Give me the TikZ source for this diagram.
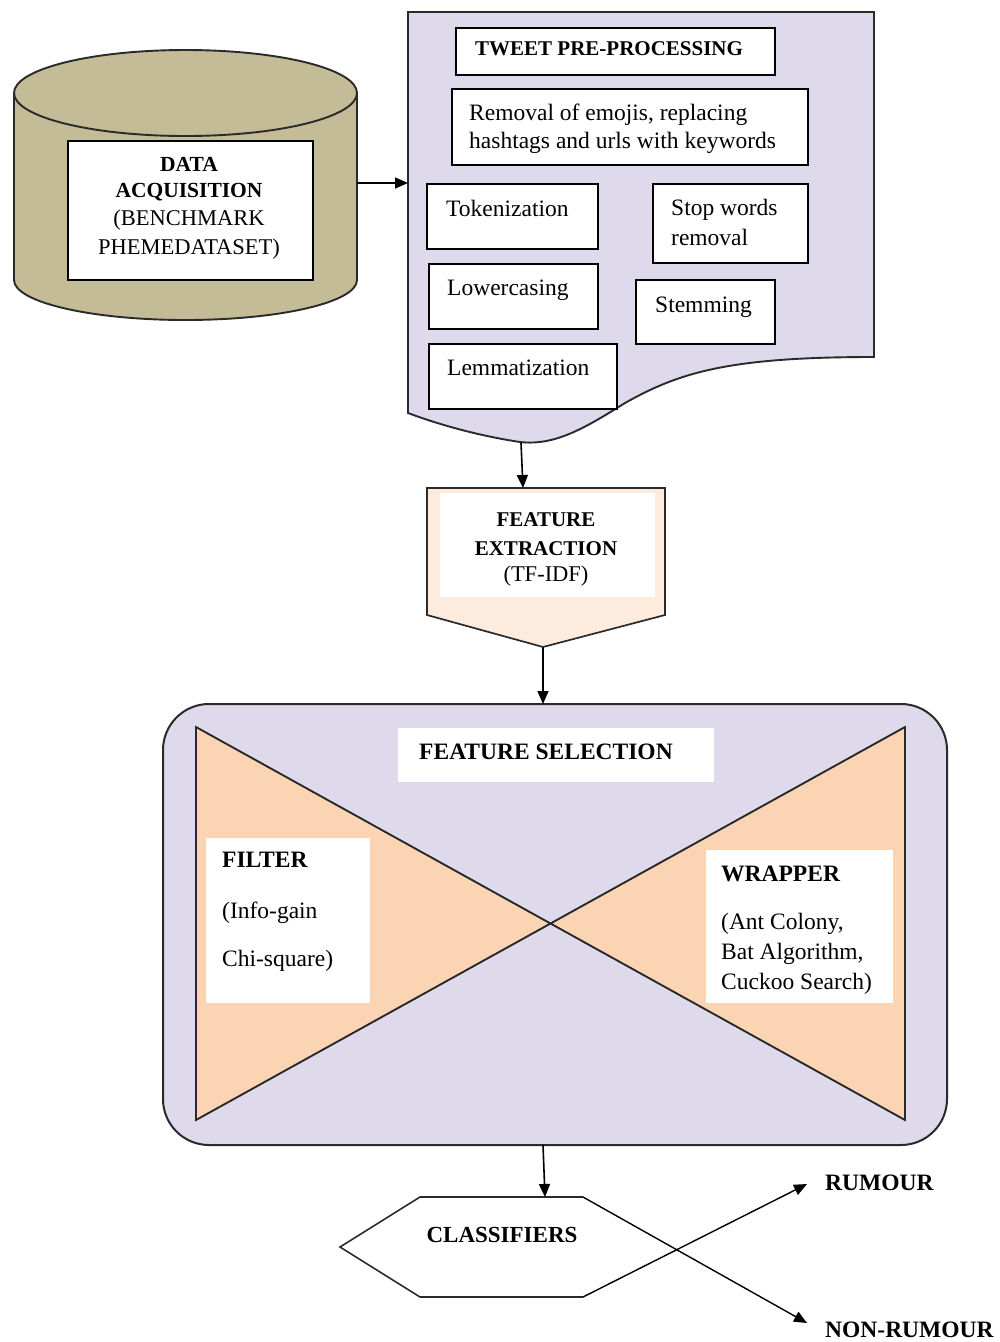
\documentclass[tikz,border=0pt]{standalone}
\usepackage{fontspec}
\setmainfont{Liberation Serif}
\usetikzlibrary{arrows.meta,calc}
\definecolor{tan}{HTML}{C4BC96}
\definecolor{lav}{HTML}{DEDAEB}
\definecolor{peach}{HTML}{FBD4B4}
\definecolor{peachlt}{HTML}{FDEBDD}
\definecolor{edge}{HTML}{2A2A2A}
\begin{document}
\begin{tikzpicture}[x=1pt,y=-1pt,
  box/.style={draw=black, line width=1.9pt, fill=white, inner sep=0pt, anchor=north west},
  plain/.style={fill=white, inner sep=0pt, anchor=north west},
  txt/.style={inner sep=0pt, anchor=base west, font=\fontsize{23.5}{28}\selectfont},
  ctxt/.style={inner sep=0pt, anchor=base, font=\fontsize{22.5}{28}\selectfont},
  hd/.style={font=\fontsize{#1}{28}\selectfont\bfseries},
  arr/.style={-{Triangle[length=13pt,width=11pt]}, line width=1.6pt, draw=black},
]
\useasboundingbox (0,0) rectangle (1000,1342);

% ---------- data store (cylinder) ----------
\filldraw[fill=tan, draw=edge, line width=1.9pt]
  (14,93) -- (14,280) arc[start angle=180, end angle=0, x radius=171.5, y radius=40] -- (357,93) -- cycle;
\filldraw[fill=tan, draw=edge, line width=1.9pt] (185.5,93) ellipse [x radius=171.5, y radius=43];
\coordinate (cylR) at (357,183);
\node[box, minimum width=245pt, minimum height=139pt] (dataBox) at (67,140) {};
\node[ctxt, hd=21.5] (d1) at (189,171) {DATA};
\node[ctxt, hd=21.5] (d2) at (189,197) {ACQUISITION};
\node[ctxt] (d3) at (189,225) {(BENCHMARK};
\node[ctxt] (d4) at (189,254) {PHEMEDATASET)};

% ---------- pre-processing document ----------
\filldraw[fill=lav, draw=edge, line width=1.9pt]
  (408,12) -- (874,12) -- (874,357)
  .. controls (730,357) and (680,372) .. (625,403)
  .. controls (585,428) and (555,446) .. (520,442)
  .. controls (480,436) and (440,425) .. (408,413) -- cycle;
\coordinate (docL) at (408,183);
\coordinate (docB) at (521,443);

\node[box, minimum width=319pt, minimum height=47pt] (tw) at (455,27) {};
\node[txt, hd=21] (twT) at (475,55) {TWEET PRE-PROCESSING};
\node[box, minimum width=356pt, minimum height=76pt] (rm) at (451,88) {};
\node[txt] (rm1) at (469,120) {Removal of emojis, replacing};
\node[txt] (rm2) at (469,148) {hashtags and urls with keywords};
\node[box, minimum width=171pt, minimum height=65pt] (tok) at (426,183) {};
\node[txt] (tokT) at (446,216) {Tokenization};
\node[box, minimum width=155pt, minimum height=79pt] (sw) at (652,183) {};
\node[txt] (sw1) at (671,215) {Stop words};
\node[txt] (sw2) at (671,245) {removal};
\node[box, minimum width=169pt, minimum height=65pt] (low) at (428,263) {};
\node[txt] (lowT) at (447,295) {Lowercasing};
\node[box, minimum width=139pt, minimum height=64pt] (stm) at (635,279) {};
\node[txt] (stmT) at (655,312) {Stemming};
\node[box, minimum width=188pt, minimum height=65pt] (lem) at (428,343) {};
\node[txt] (lemT) at (447,375) {Lemmatization};

% ---------- feature extraction (off-page connector) ----------
\filldraw[fill=peachlt, draw=edge, line width=1.7pt]
  (427,488) -- (665,488) -- (665,615) -- (543,647) -- (427,615) -- cycle;
\coordinate (feT) at (523,488);
\coordinate (feB) at (543,647);
\node[plain, minimum width=215pt, minimum height=104pt] (feBox) at (440,493) {};
\node[ctxt, hd=21] (fe1) at (546,526) {FEATURE};
\node[ctxt, hd=21] (fe2) at (546,555) {EXTRACTION};
\node[ctxt] (fe3) at (546,581) {(TF-IDF)};

% ---------- feature selection ----------
\filldraw[fill=lav, draw=edge, line width=2pt, rounded corners=46pt] (163,704) rectangle (947,1145);
\coordinate (fsT) at (543,704);
\coordinate (fsB) at (543,1145);
\coordinate (mid) at (550.5,923.5);
\filldraw[fill=peach, draw=edge, line width=1.6pt] (196,727) -- (mid) -- (196,1120) -- cycle;
\filldraw[fill=peach, draw=edge, line width=1.6pt] (905,727) -- (mid) -- (905,1120) -- cycle;
\draw[draw=edge, line width=1.6pt] (196,727) -- (905,1120) (905,727) -- (196,1120);

\node[plain, minimum width=316pt, minimum height=54pt] (fsBox) at (398,728) {};
\node[ctxt, hd=23.5] (fsT1) at (546,759) {FEATURE SELECTION};
\node[plain, minimum width=164pt, minimum height=165pt] (flBox) at (206,838) {};
\node[txt, hd=23.5] (fl1) at (222,867) {FILTER};
\node[txt] (fl2) at (222,918) {(Info-gain};
\node[txt] (fl3) at (222,966) {Chi-square)};
\node[plain, minimum width=187pt, minimum height=153pt] (wrBox) at (706,850) {};
\node[txt, hd=23.5] (wr1) at (721,881) {WRAPPER};
\node[txt] (wr2) at (721,929) {(Ant Colony,};
\node[txt] (wr3) at (721,959) {Bat Algorithm,};
\node[txt] (wr4) at (721,989) {Cuckoo Search)};

% ---------- classifiers ----------
\coordinate (hxL) at (340,1247);
\coordinate (hxTL) at (420,1197);
\coordinate (hxTR) at (583,1197);
\coordinate (hxBL) at (420,1297);
\coordinate (hxBR) at (583,1297);
\coordinate (hxT) at (545,1197);
\draw[draw=edge, line width=1.6pt] (hxTR) -- (hxTL) -- (hxL) -- (hxBL) -- (hxBR);
\node[ctxt, hd=23] (cls) at (502,1242) {CLASSIFIERS};
\node[txt, hd=23.5] (rum) at (825,1190) {RUMOUR};
\node[txt, hd=23.5] (nrum) at (825,1337) {NON-RUMOUR};
\coordinate (rumTip) at (807,1184);
\coordinate (nrumTip) at (807,1323);

% ---------- connectors ----------
\draw[arr] (cylR) -- (docL);
\draw[arr] (docB) -- (feT);
\draw[arr] (feB) -- (fsT);
\draw[arr] (fsB) -- (hxT);
\draw[arr, line width=1.4pt] (hxBR) -- (rumTip);
\draw[arr, line width=1.4pt] (hxTR) -- (nrumTip);
\end{tikzpicture}
\end{document}
